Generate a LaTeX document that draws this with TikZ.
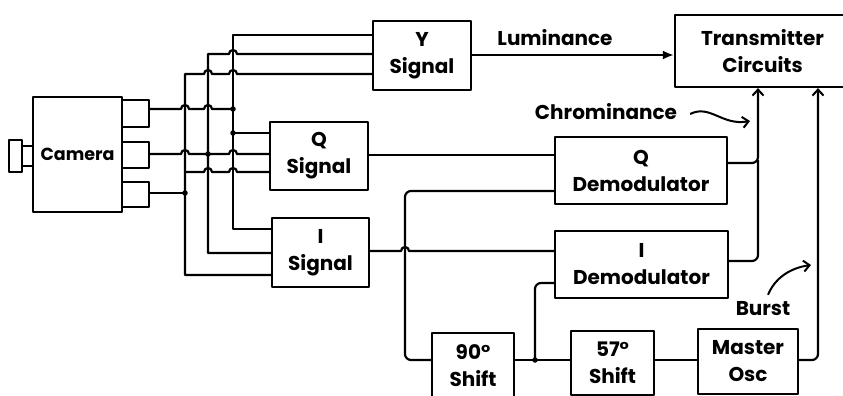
\documentclass[tikz,border=0pt]{standalone}
\usepackage{fontspec}
\setmainfont{Poppins}
\usetikzlibrary{arrows.meta,calc}
\begin{document}
\begin{tikzpicture}[x=1pt,y=-1pt, line width=2.2pt, line join=round,
  box/.style={draw, rectangle, inner sep=0pt, align=center, font=\fontsize{20}{27}\selectfont\bfseries},
  tab/.style={draw, rectangle, inner sep=0pt, minimum width=27pt},
  lbl/.style={font=\fontsize{20}{24}\selectfont\bfseries, inner sep=0pt},
  dot/.style={circle, fill, inner sep=0pt, minimum size=5.5pt},
  barb/.style={-{Straight Barb[length=6pt,width=11pt,line width=2pt]}},
  fillarrow/.style={-{Latex[length=11pt,width=9pt]}},
  rbend/.style={rounded corners=6pt}]
\useasboundingbox (0,0) rectangle (843,396);
\clip (0,0) rectangle (843,396);

% camera
\node[box, minimum width=89pt, minimum height=115pt, font=\fontsize{17.5}{22}\selectfont\bfseries] (cam) at (77.5,154.5) {Camera};
\draw (9,140) rectangle (22,172);
\draw (22,146) rectangle (33,166);
\node[tab, minimum height=27pt] (t1) at (135.5,113.5) {};
\node[tab, minimum height=26pt] (t2) at (135.5,155) {};
\node[tab, minimum height=25pt] (t3) at (135.5,194.5) {};

% signal boxes
\node[box, minimum width=98pt, minimum height=69pt] (ysig) at (422,55.5) {Y\\Signal};
\node[box, minimum width=98pt, minimum height=68pt] (qsig) at (319,156) {Q\\Signal};
\node[box, minimum width=97pt, minimum height=69pt] (isig) at (320.5,252.5) {I\\Signal};

% right side
\node[box, minimum width=175pt, minimum height=72pt] (tx) at (762.5,51) {Transmitter\\Circuits};
\node[box, minimum width=172pt, minimum height=67pt] (qdem) at (641,170.5) {Q\\Demodulator};
\node[box, minimum width=173pt, minimum height=67pt] (idem) at (641.5,264.5) {I\\Demodulator};
\node[box, minimum width=82pt, minimum height=65pt] (s90) at (473,365.5) {90°\\Shift};
\node[box, minimum width=83pt, minimum height=64pt] (s57) at (612.5,363) {57°\\Shift};
\node[box, minimum width=100pt, minimum height=65pt] (mosc) at (748,361.5) {Master\\Osc};

% junctions
\coordinate (jA) at (233,109);
\coordinate (jQ) at (233,133);
\coordinate (jB) at (208,154);
\coordinate (jC) at (185,193);
\coordinate (jS) at (535,360);
\node[dot] at (jA) {};
\node[dot] at (jQ) {};
\node[dot] at (jB) {};
\node[dot] at (jC) {};
\node[dot] at (jS) {};

% bus A (x=233): camera top output
\draw (t1.east |- 0,109) -- (181,109) arc[start angle=180,end angle=0,radius=4pt]
  -- (204,109) arc[start angle=180,end angle=0,radius=4pt] -- (jA);
\draw (ysig.west |- 0,35) -- (233,35) -- (233,229) -- (isig.west |- 0,229);
\draw (jQ) -- (qsig.west |- 0,133);

% bus B (x=208): camera middle output
\draw (ysig.west |- 0,54) -- (237,54) arc[start angle=0,end angle=180,radius=4pt]
  -- (208,54) -- (208,253) -- (isig.west |- 0,253);
\draw (t2.east |- 0,154) -- (181,154) arc[start angle=180,end angle=0,radius=4pt]
  -- (jB) -- (229,154) arc[start angle=180,end angle=0,radius=4pt] -- (qsig.west |- 0,154);

% bus C (x=185): camera bottom output
\draw (ysig.west |- 0,74) -- (237,74) arc[start angle=0,end angle=180,radius=4pt]
  -- (212,74) arc[start angle=0,end angle=180,radius=4pt] -- (185,74) -- (185,275) -- (isig.west |- 0,275);
\draw (185,172) -- (204,172) arc[start angle=180,end angle=0,radius=4pt]
  -- (229,172) arc[start angle=180,end angle=0,radius=4pt] -- (qsig.west |- 0,172);
\draw (t3.east |- 0,193) -- (jC);

% signal outputs
\draw[fillarrow] (ysig.east |- 0,55) -- (tx.west |- 0,55);
\draw (qsig.east |- 0,155) -- (qdem.west |- 0,155);
\draw (isig.east |- 0,251) -- (401,251) arc[start angle=180,end angle=0,radius=4pt] -- (idem.west |- 0,251);

% demodulator outputs
\draw[rbend, barb] (qdem.east |- 0,163) -- (758,163) -- (tx.south -| 758,0);
\draw[rbend] (idem.east |- 0,261) -- (758,261) -- (758,160);

% shifts
\draw[rbend] (s90.west |- 0,360) -- (405,360) -- (405,191) -- (qdem.west |- 0,191);
\draw (s90.east |- 0,360) -- (s57.west |- 0,360);
\draw[rbend] (jS) -- (535,283) -- (idem.west |- 0,283);
\draw (s57.east |- 0,360) -- (mosc.west |- 0,360);
\draw[rbend, barb] (mosc.east |- 0,360) -- (818,360) -- (tx.south -| 818,0);

% labels
\node[lbl] (lum) at (555,38) {Luminance};
\node[lbl] (chr) at (606,112) {Chrominance};
\node[lbl] (burst) at (763,309) {Burst};
\coordinate (chrtip) at (750,121);
\coordinate (bursttip) at (811,265);
\draw[barb, line width=2pt] ($(chr.east)+(12,2)$) .. controls (710,104) and (722,126) .. (chrtip);
\draw[barb, line width=2pt] ($(burst.north)+(5,-6)$) .. controls (775,278) and (790,268) .. (bursttip);
\end{tikzpicture}
\end{document}
